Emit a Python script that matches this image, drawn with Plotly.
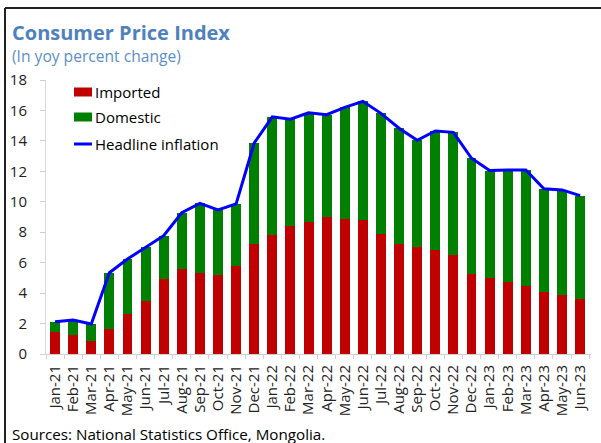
import plotly.graph_objects as go

months = ["Jan-21","Feb-21","Mar-21","Apr-21","May-21","Jun-21","Jul-21","Aug-21","Sep-21","Oct-21","Nov-21","Dec-21",
          "Jan-22","Feb-22","Mar-22","Apr-22","May-22","Jun-22","Jul-22","Aug-22","Sep-22","Oct-22","Nov-22","Dec-22",
          "Jan-23","Feb-23","Mar-23","Apr-23","May-23","Jun-23"]
imported = [1.47,1.25,0.85,1.64,2.65,3.46,4.95,5.58,5.34,5.19,5.78,7.23,
            7.80,8.43,8.69,8.98,8.87,8.80,7.88,7.23,7.05,6.83,6.50,5.28,
            4.97,4.75,4.47,4.10,3.88,3.61]
domestic = [0.65,0.98,1.12,3.70,3.59,3.57,2.82,3.70,4.56,4.27,4.08,6.63,
            7.78,7.00,7.16,6.74,7.33,7.80,7.93,7.60,6.99,7.82,8.06,7.58,
            7.08,7.33,7.62,6.76,6.90,6.79]
headline = [2.12,2.23,1.97,5.34,6.24,7.03,7.77,9.28,9.90,9.46,9.86,13.86,
            15.58,15.43,15.85,15.72,16.20,16.60,15.81,14.83,14.04,14.65,14.56,12.86,
            12.05,12.08,12.09,10.86,10.78,10.40]
y_ticks = [0, 2, 4, 6, 8, 10, 12, 14, 16, 18]
series_names = ["Imported", "Domestic", "Headline inflation"]
series_colors = ["#C00000", "#008000", "#0000FF"]

FONT = "Open Sans"

fig = go.Figure()
fig.add_trace(go.Bar(x=months, y=imported, name=series_names[0], marker_color=series_colors[0],
                     marker_line_width=0, showlegend=False))
fig.add_trace(go.Bar(x=months, y=domestic, name=series_names[1], marker_color=series_colors[1],
                     marker_line_width=0, showlegend=False))
fig.add_trace(go.Scatter(x=months, y=headline, name=series_names[2], mode="lines",
                         line=dict(color=series_colors[2], width=3), showlegend=False))

L, R, T, B = 46, 10, 80, 89
W, H = 601, 443
pw, ph = W - L - R, H - T - B

def px_x(p):
    return (p - L) / pw

def px_y(p):
    return (H - B - p) / ph

fig.update_layout(
    width=W, height=H,
    margin=dict(l=L, r=R, t=T, b=B),
    paper_bgcolor="white", plot_bgcolor="white",
    barmode="stack", bargap=0.45,
    font=dict(family=FONT, color="#000000"),
    showlegend=False,
    xaxis=dict(type="category", showline=True, linecolor="#d0d0d0", linewidth=1,
               ticks="outside", tickson="boundaries", ticklen=4, tickcolor="#d0d0d0",
               tickmode="linear", dtick=1, tick0=0,
               tickangle=-90, tickfont=dict(size=15, family=FONT, color="#222222"),
               showgrid=False, range=[-0.5, 29.6], ticklabelstandoff=4),
    yaxis=dict(range=[0, 18], tickvals=y_ticks, showline=True, linecolor="#d9d9d9",
               linewidth=1, ticks="outside", ticklen=5, tickcolor="#d0d0d0",
               tickfont=dict(size=15, family=FONT, color="#222222"), showgrid=False,
               zeroline=False, ticklabelstandoff=10),
)

# manual legend
leg_y = [92, 117, 144]
for i, (nm, col) in enumerate(zip(series_names, series_colors)):
    yc = leg_y[i]
    if i < 2:
        fig.add_shape(type="rect", xref="paper", yref="paper",
                      x0=px_x(74), x1=px_x(92), y0=px_y(yc - 4.5), y1=px_y(yc + 4.5),
                      fillcolor=col, line=dict(width=0))
    else:
        fig.add_shape(type="line", xref="paper", yref="paper",
                      x0=px_x(74), x1=px_x(92), y0=px_y(yc), y1=px_y(yc),
                      line=dict(color=col, width=3))
    fig.add_annotation(text=nm, xref="paper", yref="paper", x=px_x(93), y=px_y(yc),
                       xanchor="left", yanchor="middle", showarrow=False,
                       font=dict(size=15, family=FONT, color="#000000"))

fig.add_annotation(text="<b>Consumer Price Index</b>", xref="paper", yref="paper",
                   x=px_x(10), y=px_y(32), xanchor="left", yanchor="middle", showarrow=False,
                   font=dict(size=20, family=FONT, color="#4F81BD"))
fig.add_annotation(text="(In yoy percent change)", xref="paper", yref="paper",
                   x=px_x(10), y=px_y(56), xanchor="left", yanchor="middle", showarrow=False,
                   font=dict(size=15.6, family=FONT, color="#5B8FC7"))
fig.add_annotation(text="Sources: National Statistics Office, Mongolia.", xref="paper", yref="paper",
                   x=px_x(10), y=px_y(434), xanchor="left", yanchor="middle", showarrow=False,
                   font=dict(size=15.2, family=FONT, color="#000000"))

# frame
fig.add_shape(type="line", xref="paper", yref="paper", x0=px_x(5), x1=px_x(620),
              y0=px_y(8), y1=px_y(8), line=dict(color="#222222", width=2))
fig.add_shape(type="line", xref="paper", yref="paper", x0=px_x(5), x1=px_x(5),
              y0=px_y(8), y1=px_y(460), line=dict(color="#222222", width=2))

fig.write_html("out.html", config={"displayModeBar": False},
               post_script="document.body.style.margin='0';document.body.style.overflow='hidden';")
